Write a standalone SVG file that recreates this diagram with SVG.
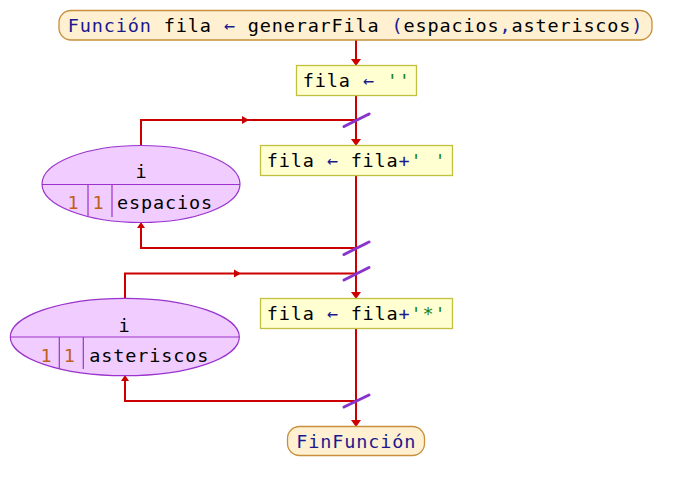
<svg xmlns="http://www.w3.org/2000/svg" width="678" height="491" viewBox="0 0 678 491">
<defs>
<style>
.t{font-family:"DejaVu Sans Mono","Liberation Mono",monospace;font-size:18.5px;letter-spacing:0.85px;fill:#000}
.kw{fill:#1a1a90}
.str{fill:#208020}
.num{fill:#c06020}
.term{fill:#fff0d2;stroke:#c8903c;stroke-width:1.3}
.box{fill:#ffffd2;stroke:#c0c040;stroke-width:1.3}
.ell{fill:#f0ccff;stroke:#9933cc;stroke-width:1.2}
.div{stroke:#9933cc;stroke-width:1.2;fill:none}
.ln{stroke:#cc0000;stroke-width:2;fill:none}
.ah{fill:#cc0000}
.sl{stroke:#8833cc;stroke-width:3;stroke-linecap:round}
</style>
</defs>
<rect width="678" height="491" fill="#fff"/>
<g id="connectors">
<path class="ln" d="M356,40 V62 M356,95 V142 M356,175 V295 M356,328 V423"/>
<polygon class="ah" points="351,59 361,59 356,66"/>
<polygon class="ah" points="351,139 361,139 356,146"/>
<polygon class="ah" points="351,292 361,292 356,299"/>
<polygon class="ah" points="351,420 361,420 356,427"/>
<path class="ln" d="M141,145 V120 H356"/>
<polygon class="ah" points="242,116 249,120 242,124"/>
<path class="ln" d="M356,248 H141 V226"/>
<polygon class="ah" points="137,228 145,228 141,222"/>
<path class="ln" d="M125,298 V273.5 H356"/>
<polygon class="ah" points="234,269.5 241,273.5 234,277.5"/>
<path class="ln" d="M356,401 H125 V379"/>
<polygon class="ah" points="121,381 129,381 125,375"/>
<line class="sl" x1="344" y1="126.5" x2="369" y2="114"/>
<line class="sl" x1="344" y1="254.5" x2="369" y2="242"/>
<line class="sl" x1="344" y1="280" x2="369" y2="267.5"/>
<line class="sl" x1="344" y1="407" x2="369" y2="395"/>
</g>
<g id="start">
<rect class="term" x="59" y="10.5" width="593" height="29.5" rx="12"/>
<text class="t" x="355.6" y="31.5" text-anchor="middle"><tspan class="kw">Función</tspan> fila <tspan class="kw">←</tspan> generarFila <tspan class="kw">(</tspan>espacios<tspan class="kw">,</tspan>asteriscos<tspan class="kw">)</tspan></text>
</g>
<g id="assign1">
<rect class="box" x="296.5" y="65.5" width="120" height="30"/>
<text class="t" x="302.7" y="87"><tspan>fila </tspan><tspan class="kw">←</tspan> <tspan class="str">''</tspan></text>
</g>
<g id="loop1">
<ellipse class="ell" cx="141" cy="184" rx="99" ry="38.5"/>
<path class="div" d="M42,184.5 H240 M88,184.5 V217 M112,184.5 V217"/>
<text class="t" x="141.4" y="178" text-anchor="middle">i</text>
<text class="t num" x="73.4" y="209" text-anchor="middle">1</text>
<text class="t num" x="98.4" y="209" text-anchor="middle">1</text>
<text class="t" x="117" y="209">espacios</text>
</g>
<g id="assign2">
<rect class="box" x="260.5" y="145.5" width="192" height="30"/>
<text class="t" x="266.7" y="167">fila <tspan class="kw">←</tspan> fila<tspan class="kw">+</tspan><tspan class="str">' '</tspan></text>
</g>
<g id="loop2">
<ellipse class="ell" cx="124.8" cy="337" rx="114.5" ry="38.7"/>
<path class="div" d="M10.3,337 H239.3 M59.3,337 V369 M83.3,337 V369"/>
<text class="t" x="124.4" y="331.5" text-anchor="middle">i</text>
<text class="t num" x="46.4" y="361.5" text-anchor="middle">1</text>
<text class="t num" x="69.7" y="361.5" text-anchor="middle">1</text>
<text class="t" x="89.3" y="361.5">asteriscos</text>
</g>
<g id="assign3">
<rect class="box" x="260.5" y="298.5" width="192" height="30"/>
<text class="t" x="266.7" y="320">fila <tspan class="kw">←</tspan> fila<tspan class="kw">+</tspan><tspan class="str">'*'</tspan></text>
</g>
<g id="end">
<rect class="term" x="287.5" y="426.5" width="137" height="29" rx="12"/>
<text class="t kw" x="356.2" y="447.5" text-anchor="middle">FinFunción</text>
</g>
</svg>
